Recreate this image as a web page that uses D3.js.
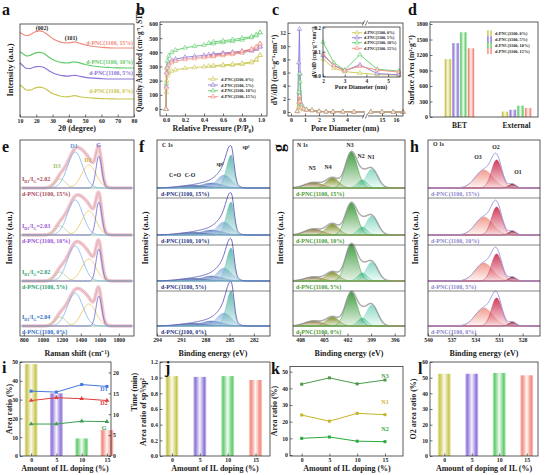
<!DOCTYPE html>
<html>
<head>
<meta charset="utf-8">
<script src="https://cdn.jsdelivr.net/npm/d3@7"></script>
<style>
  body { margin: 0; background: #fff; }
  text { font-family: "Liberation Serif", "Times New Roman", serif; font-weight: bold; }
</style>
</head>
<body>
<script>
// d-PNC(1100, x%) figure: XRD, isotherms, PSD, BET, Raman, XPS, ratio plots

// ---------- data ----------
const samples = ["d-PNC(1100, 0%)", "d-PNC(1100, 5%)", "d-PNC(1100, 10%)", "d-PNC(1100, 15%)"];
const sampleColors = ["#c9c64e", "#8d74d8", "#5fcc6a", "#f28a7c"];
const ilDoping = [0, 5, 10, 15];

// a: XRD (a.u., already offset)
const xrdAngle = [10, 12, 14, 16, 18, 20, 22, 24, 26, 28, 30, 33, 36, 39, 42, 44, 46, 50, 55, 60, 65, 70, 75, 80];
const xrd15 = [84.5, 82.5, 81.5, 82, 84, 85.5, 86.2, 85.5, 83.5, 81, 78.5, 76, 74.5, 74, 74.7, 75, 74, 72, 70.5, 69.7, 69.2, 69, 69, 69];
const xrd10 = [65.3, 63, 61, 61.5, 63, 64.3, 64.6, 64, 62, 59.5, 57.5, 55.5, 54.3, 54, 54.8, 55, 54.3, 52.5, 51, 50, 49.5, 49.2, 49, 49];
const xrd5 = [54, 51, 48.5, 48.5, 49.5, 50.3, 50.5, 50, 48.3, 46, 44.3, 42.5, 41.3, 40.8, 41.5, 41.7, 41, 39.7, 38.8, 38.3, 38, 38, 38, 38];
const xrd0 = [32, 29.5, 27, 26.8, 28, 29.3, 29.8, 29.3, 27.8, 25.5, 23.5, 21.8, 20.5, 20.2, 21, 21.3, 20.5, 19.5, 18.8, 18.4, 18.2, 18, 18, 18];

// b: N2 isotherms
const isoP = [0, 0.003, 0.008, 0.015, 0.03, 0.06, 0.1, 0.2, 0.3, 0.4, 0.5, 0.6, 0.7, 0.8, 0.9, 0.95, 0.99];
const isoAds0 = [0, 120, 200, 235, 255, 268, 276, 287, 293, 298, 302, 306, 310, 316, 327, 345, 380];
const isoAds5 = [0, 160, 260, 300, 325, 342, 352, 365, 372, 378, 383, 389, 394, 400, 410, 422, 440];
const isoAds10 = [0, 180, 290, 340, 375, 400, 415, 432, 443, 452, 462, 470, 478, 488, 505, 518, 540];
const isoAds15 = [0, 150, 250, 290, 312, 328, 338, 350, 357, 364, 371, 378, 386, 396, 415, 432, 460];
const isoPdes = [0.99, 0.95, 0.9, 0.8, 0.7, 0.6, 0.5, 0.45];
const isoDes0 = [380, 350, 333, 322, 316, 311, 306, 302];
const isoDes5 = [440, 428, 418, 408, 401, 395, 388, 383];
const isoDes10 = [540, 525, 512, 500, 490, 482, 474, 465];
const isoDes15 = [460, 440, 424, 408, 396, 386, 376, 370];

// c: pore size distribution
const poreD = [0.45, 0.55, 0.6, 0.65, 0.75, 0.9, 1.1, 1.5, 2, 2.5, 3, 3.7, 4.5, 5.5];
const psd0 = [0.1, 0.8, 1.3, 1.0, 0.5, 0.35, 0.3, 0.2, 0.07, 0.032, 0.018, 0.012, 0.006, 0.003];
const psd5 = [0.1, 7.5, 12.6, 5.8, 1.2, 0.5, 0.35, 0.25, 0.085, 0.045, 0.022, 0.046, 0.01, 0.005];
const psd10 = [0.1, 3.0, 5.8, 4.6, 1.0, 0.55, 0.4, 0.3, 0.14, 0.055, 0.025, 0.088, 0.028, 0.02];
const psd15 = [0.1, 1.5, 2.4, 1.6, 0.7, 0.45, 0.35, 0.25, 0.092, 0.042, 0.022, 0.04, 0.025, 0.016];
const poreDfar = [14.2, 15, 15.8, 16.5];
const psdFar = [0.005, 0.004, 0.004, 0.003];

// d: surface area (m2/g)
const areaCats = ["BET", "External"];
const areaBET = [1120, 1430, 1640, 1330];
const areaExt = [105, 140, 220, 175];

// e: Raman fit components D3, D1, D2, G (per sample 0,5,10,15 %)
const ramanCenters = [1185, 1340, 1485, 1590];
const ramanWidths = [55, 80, 75, 30];
const ramanD3 = [9, 9, 9, 9];
const ramanD1 = [33, 35, 35, 36];
const ramanD2 = [22, 22, 24, 23];
const ramanG = [30, 32, 33, 32];
const ramanRatio = ["2.04", "2.02", "2.03", "2.02"];

// f: C 1s components sp2, sp3, C-O, C=O
const c1sCenters = [284.8, 285.7, 287.2, 289.5];
const c1sSp2 = [35, 33, 33, 33];
const c1sSp3 = [13, 13, 13, 13];
const c1sCO = [5, 5, 5, 5];
const c1sCdO = [2.5, 2.5, 2.5, 2.5];

// g: N 1s components N1..N5
const n1sCenters = [398.9, 400.1, 401.5, 403.9, 406.3];
const n1sN1 = [21, 19, 19, 19];
const n1sN2 = [8, 8, 8, 8];
const n1sN3 = [34, 37, 32, 36];
const n1sN4 = [9, 9, 11, 10];
const n1sN5 = [5, 4, 6, 5.5];

// h: O 1s components O1..O3
const o1sCenters = [529.3, 531.3, 532.9];
const o1sO1 = [4, 4, 4, 4];
const o1sO2 = [28, 27, 28, 28];
const o1sO3 = [18, 18, 18, 18];

// i: Raman area ratios (%) and time (min)
const ratioD1 = [34.5, 34, 38, 37];
const ratioD2 = [29.5, 31, 30.5, 29.5];
const ratioG = [17, 17, 18.5, 18.3];
const timeMin = [22, 15, 4.2, 6.2];

// j: sp3/sp2
const sp3sp2 = [1.02, 1.01, 1.02, 0.97];

// k: N species area ratio (%)
const ratioN3 = [42.5, 46.3, 42.7, 45];
const ratioN1 = [24, 20.3, 25, 24.2];
const ratioN2 = [10, 10.8, 8.3, 8];

// l: O2 area ratio (%)
const ratioO2 = [52.5, 52.5, 53, 51.5];

// ---------- helpers ----------
const svg = d3.select("body").append("svg").attr("width", 546).attr("height", 475);
const defs = svg.append("defs");
const ink = "#222";

function label(x, y, s, size, fill = ink, anchor = "start") {
  return svg.append("text").attr("x", x).attr("y", y).attr("font-size", size)
    .attr("fill", fill).attr("text-anchor", anchor).text(s);
}
function vlabel(x, y, s, size) {
  return svg.append("text").attr("transform", `translate(${x},${y}) rotate(-90)`)
    .attr("font-size", size).attr("fill", ink).attr("text-anchor", "middle").text(s);
}
function letter(x, y, s) { return label(x, y, s, 16, "#111"); }
function box(x0, y0, x1, y1) {
  svg.append("rect").attr("x", x0).attr("y", y0).attr("width", x1 - x0).attr("height", y1 - y0)
    .attr("fill", "none").attr("stroke", "#333").attr("stroke-width", 0.8);
}
function tidy(g, size) {
  g.select(".domain").remove();
  g.selectAll(".tick line").attr("stroke", "#333").attr("stroke-width", 0.7);
  g.selectAll(".tick text").attr("font-size", size).attr("fill", ink);
  return g;
}
function bottomAxis(scale, y, ticks, fmt = d3.format("d"), size = 5.8) {
  return tidy(svg.append("g").attr("transform", `translate(0,${y})`)
    .call(d3.axisBottom(scale).tickValues(ticks).tickFormat(fmt).tickSizeInner(-2.5).tickSizeOuter(0).tickPadding(2)), size);
}
function leftAxis(scale, x, ticks, fmt = d3.format("d"), size = 5.8) {
  return tidy(svg.append("g").attr("transform", `translate(${x},0)`)
    .call(d3.axisLeft(scale).tickValues(ticks).tickFormat(fmt).tickSizeInner(-2.5).tickSizeOuter(0).tickPadding(2)), size);
}
function rightAxis(scale, x, ticks, fmt = d3.format("d"), size = 5.8) {
  return tidy(svg.append("g").attr("transform", `translate(${x},0)`)
    .call(d3.axisRight(scale).tickValues(ticks).tickFormat(fmt).tickSizeInner(-2.5).tickSizeOuter(0).tickPadding(2)), size);
}
let gradN = 0;
function vGrad(color, top = 0.95, bot = 0.1) {
  const id = "vg" + (gradN++);
  const g = defs.append("linearGradient").attr("id", id).attr("x1", 0).attr("y1", 0).attr("x2", 0).attr("y2", 1);
  g.append("stop").attr("offset", 0).attr("stop-color", color).attr("stop-opacity", top);
  g.append("stop").attr("offset", 1).attr("stop-color", color).attr("stop-opacity", bot);
  return `url(#${id})`;
}
function hGrad(color) {
  const id = "hg" + (gradN++);
  const g = defs.append("linearGradient").attr("id", id).attr("x1", 0).attr("y1", 0).attr("x2", 1).attr("y2", 0);
  [[0, 0.4], [0.15, 1], [0.5, 0.08], [0.85, 1], [1, 0.4]].forEach(([o, a]) =>
    g.append("stop").attr("offset", o).attr("stop-color", color).attr("stop-opacity", a));
  return `url(#${id})`;
}
// fitted component shape (center, height, width toward low x, width toward high x)
function peak(c, h, sLo, sHi = sLo) {
  return v => h * Math.exp(-0.5 * ((v - c) / (v < c ? sLo : sHi)) ** 2);
}
function marks(pts, x, y, color, size = 9, type = d3.symbolTriangle) {
  svg.append("g").selectAll("path").data(pts).join("path")
    .attr("transform", d => `translate(${x(d[0])},${y(d[1])})`)
    .attr("d", d3.symbol().type(type).size(size))
    .attr("fill", "#fff").attr("fill-opacity", 0.6).attr("stroke", color).attr("stroke-width", 0.6);
}

// ---------- a ----------
{
  const x = d3.scaleLinear().domain([10, 80]).range([20, 134]);
  const y = d3.scaleLinear().domain([0, 93]).range([117, 24]);
  const line = d3.line().x((d, i) => x(xrdAngle[i])).y(d => y(d)).curve(d3.curveMonotoneX);
  [xrd0, xrd5, xrd10, xrd15].forEach((s, k) =>
    svg.append("path").attr("d", line(s)).attr("fill", "none").attr("stroke", sampleColors[k]).attr("stroke-width", 1.2));
  box(20, 24, 134, 117);
  bottomAxis(x, 117, d3.range(10, 81, 10));
  [93, 74.5, 64, 45].forEach((yy, k) => label(133, yy, samples[k], 5.8, sampleColors[k], "end"));
  label(42, 30, "(002)", 5.8, ink, "middle");
  label(71, 40, "(101)", 5.8, ink, "middle");
  vlabel(13, 70, "Intensity (a.u.)", 8.5);
  label(77, 131, "2θ (degree)", 8, ink, "middle");
  letter(2, 15, "a");
}

// ---------- b ----------
{
  const x = d3.scaleLinear().domain([0, 1]).range([166, 261]);
  const y = d3.scaleLinear().domain([0, 600]).range([109, 24]);
  const line = d3.line().x(d => x(d[0])).y(d => y(d[1]));
  const ads = [isoAds0, isoAds5, isoAds10, isoAds15];
  const des = [isoDes0, isoDes5, isoDes10, isoDes15];
  ads.forEach((a, k) => {
    const pa = isoP.map((p, i) => [p, a[i]]);
    const pd = isoPdes.map((p, i) => [p, des[k][i]]);
    [pa, pd].forEach(pts => svg.append("path").attr("d", line(pts)).attr("fill", "none")
      .attr("stroke", sampleColors[k]).attr("stroke-width", 0.9));
    marks(pa.concat(pd), x, y, sampleColors[k], 9);
  });
  box(160, 22, 267, 116);
  leftAxis(y, 160, d3.range(0, 601, 100));
  bottomAxis(x, 116, d3.range(0, 1.01, 0.2), d3.format(".1f"));
  [79, 85, 90.7, 96.7].forEach((yy, k) => {
    svg.append("line").attr("x1", 208).attr("x2", 218).attr("y1", yy).attr("y2", yy)
      .attr("stroke", sampleColors[k]).attr("stroke-width", 0.9);
    marks([[0, 0]], () => 213, () => yy, sampleColors[k], 9);
    label(221, yy + 1.5, samples[k], 4.3);
  });
  vlabel(142, 60, "Quantity Adsorbed (cm³·g⁻¹, STP)", 7.2);
  label(213, 131, "Relative Pressure (P/P₀)", 8, ink, "middle");
  letter(136, 15, "b");
}

// ---------- c ----------
{
  const xl = d3.scaleLinear().domain([0, 4]).range([291, 347]);
  const xr = d3.scaleLinear().domain([15, 16]).range([382, 396]);
  const y = d3.scaleLinear().domain([0, 12]).range([112, 33]);
  const clipL = defs.append("clipPath").attr("id", "cL");
  clipL.append("rect").attr("x", 288).attr("y", 20).attr("width", 77).attr("height", 100);
  const series = [psd0, psd5, psd10, psd15];
  const line = sx => d3.line().x(d => sx(d[0])).y(d => y(d[1]));
  series.forEach((s, k) => {
    const pts = poreD.map((d, i) => [d, s[i]]);
    const g = svg.append("g").attr("clip-path", "url(#cL)");
    g.append("path").attr("d", line(xl)(pts)).attr("fill", "none").attr("stroke", sampleColors[k]).attr("stroke-width", 0.9);
    const far = poreDfar.map((d, i) => [d, psdFar[i]]);
    svg.append("path").attr("d", line(xr)(far)).attr("fill", "none").attr("stroke", sampleColors[k]).attr("stroke-width", 0.9);
  });
  series.forEach((s, k) => {
    marks(poreD.filter(d => d < 5).map((d, i) => [d, s[i]]), xl, y, sampleColors[k], 8);
    marks(poreDfar.map((d, i) => [d, psdFar[i]]), xr, y, sampleColors[k], 8);
  });
  box(288, 23, 403, 116);
  leftAxis(y, 288, d3.range(0, 13, 2));
  bottomAxis(xl, 116, [0, 1, 2, 3, 4]);
  bottomAxis(xr, 116, [15, 16]);
  // axis break
  [23, 116].forEach(yy => {
    svg.append("rect").attr("x", 364).attr("y", yy - 1.5).attr("width", 4).attr("height", 3).attr("fill", "#fff");
    [363.5, 366.5].forEach(xx => svg.append("line").attr("x1", xx - 1.2).attr("x2", xx + 1.2)
      .attr("y1", yy + 2.5).attr("y2", yy - 2.5).attr("stroke", "#333").attr("stroke-width", 0.7));
  });
  // inset
  const ix = d3.scaleLinear().domain([2, 5.55]).range([323, 400]);
  const iy = d3.scaleLinear().domain([0, 0.2]).range([76, 27.5]);
  svg.append("rect").attr("x", 323).attr("y", 27).attr("width", 77).attr("height", 50).attr("fill", "#fff");
  series.forEach((s, k) => {
    const pts = poreD.map((d, i) => [d, s[i]]).filter(d => d[0] >= 2);
    svg.append("path").attr("d", d3.line().x(d => ix(d[0])).y(d => iy(d[1]))(pts))
      .attr("fill", "none").attr("stroke", sampleColors[k]).attr("stroke-width", 0.9);
    marks(pts, ix, iy, sampleColors[k], 8);
  });
  box(323, 27, 400, 77);
  leftAxis(iy, 323, [0, 0.1, 0.2], d3.format(".1f"), 5.3);
  bottomAxis(ix, 77, [2, 3, 4, 5], d3.format("d"), 5.3);
  [32.7, 37.7, 42.7, 48.3].forEach((yy, k) => {
    svg.append("line").attr("x1", 352).attr("x2", 362).attr("y1", yy).attr("y2", yy)
      .attr("stroke", sampleColors[k]).attr("stroke-width", 0.9);
    marks([[0, 0]], () => 357, () => yy, sampleColors[k], 8);
    label(364, yy + 1.4, samples[k], 4);
  });
  vlabel(316, 52, "dV/dD (cm³·g⁻¹·nm⁻¹)", 5.6);
  label(361, 89, "Pore Diameter (nm)", 6.2, ink, "middle");
  vlabel(277, 70, "dV/dD (cm³·g⁻¹·nm⁻¹)", 7.6);
  label(345, 131, "Pore Diameter (nm)", 8, ink, "middle");
  letter(272, 15, "c");
}

// ---------- d ----------
{
  const x0 = d3.scaleBand().domain(areaCats).range([438, 538]).paddingInner(0.45).paddingOuter(0.1);
  const x1 = d3.scaleBand().domain(d3.range(4)).range([0, x0.bandwidth()]).padding(0.08);
  const y = d3.scaleLinear().domain([0, 1800]).range([117, 24]);
  const fills = sampleColors.map(c => hGrad(c));
  [areaBET, areaExt].forEach((vals, c) => {
    svg.append("g").selectAll("rect").data(vals).join("rect")
      .attr("x", (d, k) => x0(areaCats[c]) + x1(k)).attr("width", x1.bandwidth())
      .attr("y", d => y(d)).attr("height", d => y(0) - y(d)).attr("fill", (d, k) => fills[k]);
  });
  box(430, 22, 538, 117);
  leftAxis(y, 430, d3.range(0, 1801, 300));
  areaCats.forEach(c => label(x0(c) + x0.bandwidth() / 2, 128, c, 7.5, ink, "middle"));
  [33.3, 39.3, 45, 51].forEach((yy, k) => {
    svg.append("rect").attr("x", 487).attr("y", yy - 3).attr("width", 5).attr("height", 6).attr("fill", fills[k]);
    label(495, yy + 1.5, samples[k], 4.3);
  });
  vlabel(414, 70, "Surface Area (m²·g⁻¹)", 7.6);
  letter(408, 15, "d");
}

// ---------- second row: stacked spectra ----------
const r2Top = 140, r2Bot = 336;
const subBottom = [198, 245, 291, 336];   // top to bottom: 15, 10, 5, 0 %
const order = [3, 2, 1, 0];

function stackFrame(x0, x1, seps) {
  box(x0, r2Top, x1, r2Bot);
  if (seps) subBottom.slice(0, 3).forEach(b => svg.append("line").attr("x1", x0).attr("x2", x1)
    .attr("y1", b).attr("y2", b).attr("stroke", "#333").attr("stroke-width", 0.6));
}
function area(x, y, grid, f) {
  return d3.area().x(v => x(v)).y0(y(0)).y1(v => y(f(v)))(grid);
}
function curve(x, y, grid, f) {
  return d3.line().x(v => x(v)).y(v => y(f(v)))(grid);
}

// ---------- e Raman ----------
{
  const x = d3.scaleLinear().domain([760, 1960]).range([20, 134]);
  const grid = d3.range(780, 1941, 5);
  const comps = [ramanD3, ramanD1, ramanD2, ramanG];
  const cols = ["#b8cf8c", "#86b8ea", "#efc46a", "#7c74d6"];
  const labCols = ["#2f6fc8", "#2a9e6e", "#9a52d8", "#a84a5a"];
  order.forEach((k, i) => {
    const base = subBottom[i] - 10;
    const y = d3.scaleLinear().domain([0, 50]).range([base, base - 50]);
    const fs = comps.map((h, j) => peak(ramanCenters[j], h[k], ramanWidths[j]));
    const sum = v => fs.reduce((a, f) => a + f(v), 0);
    svg.append("path").attr("d", curve(x, y, grid, sum)).attr("fill", "none")
      .attr("stroke", "#eab4bc").attr("stroke-width", 3.6).attr("stroke-opacity", 0.7);
    svg.append("path").attr("d", curve(x, y, grid, sum)).attr("fill", "none")
      .attr("stroke", "#d98e9a").attr("stroke-width", 0.5);
    svg.append("line").attr("x1", 20).attr("x2", 134).attr("y1", base).attr("y2", base)
      .attr("stroke", "#8fc0ea").attr("stroke-width", 0.8);
    fs.forEach((f, j) => svg.append("path").attr("d", curve(x, y, grid, f)).attr("fill", "none")
      .attr("stroke", cols[j]).attr("stroke-width", 0.9));
    label(22, subBottom[i] - 2.5, samples[k], 6, labCols[k]);
    const t = label(22, base - 7, "", 6, labCols[k]);
    t.append("tspan").text("I");
    t.append("tspan").attr("dy", 1.5).attr("font-size", 4).text("D1");
    t.append("tspan").attr("dy", -1.5).text("/I");
    t.append("tspan").attr("dy", 1.5).attr("font-size", 4).text("G");
    t.append("tspan").attr("dy", -1.5).text("=" + ramanRatio[k]);
  });
  stackFrame(20, 134, false);
  bottomAxis(x, r2Bot, d3.range(800, 1801, 200));
  [["D3", 57, 168, "#9fbc70"], ["D1", 74, 148, "#5a9ae0"], ["D2", 88, 162, "#d8a840"], ["G", 98.5, 147, "#6a60c8"]]
    .forEach(([s, xx, yy, c]) => label(xx, yy, s, 6, c, "middle"));
  vlabel(12, 238, "Intensity (a.u.)", 8.5);
  label(77, 356, "Raman shift (cm⁻¹)", 8, ink, "middle");
  letter(2, 152, "e");
}

// ---------- f C 1s ----------
{
  const x = d3.scaleLinear().domain([294, 280]).range([157, 270]);
  const grid = d3.range(280, 294.01, 0.05);
  const cols = ["#5fb8b0", "#94b8e0", "#5a7cc0", "#34509a"];
  const fills = cols.map(c => vGrad(c, 0.95, 0.15));
  order.forEach((k, i) => {
    const base = subBottom[i] - 10;
    const y = d3.scaleLinear().domain([0, 50]).range([base, base - 50]);
    const fs = [peak(c1sCenters[0], c1sSp2[k], 0.33, 0.6), peak(c1sCenters[1], c1sSp3[k], 0.9),
      peak(c1sCenters[2], c1sCO[k], 1.3), peak(c1sCenters[3], c1sCdO[k], 1.8)];
    [3, 2, 1, 0].forEach(j => svg.append("path").attr("d", area(x, y, grid, fs[j]))
      .attr("fill", fills[j]).attr("stroke", cols[j]).attr("stroke-width", 0.4));
    const sum = v => fs.reduce((a, f) => a + f(v), 0);
    svg.append("path").attr("d", curve(x, y, grid, sum)).attr("fill", "none")
      .attr("stroke", "#5a58b8").attr("stroke-width", 0.9);
    label(161, subBottom[i] - 2.5, samples[k], 6, "#2a3580");
  });
  stackFrame(157, 270, true);
  bottomAxis(x, r2Bot, [294, 291, 288, 285, 282]);
  label(162, 147, "C 1s", 5.8, ink);
  label(175, 177, "C=O", 5.8, ink, "middle");
  label(190, 177, "C-O", 5.8, ink, "middle");
  label(220, 166, "sp³", 5.8, ink, "middle");
  label(246, 149, "sp²", 5.8, ink, "middle");
  vlabel(148, 238, "Intensity (a.u.)", 8.5);
  label(213, 356, "Binding energy (eV)", 8, ink, "middle");
  letter(139, 152, "f");
}

// ---------- g N 1s ----------
{
  const x = d3.scaleLinear().domain([408.9, 394.7]).range([293, 405]);
  const grid = d3.range(394.7, 408.91, 0.05);
  const cols = ["#86d9c2", "#5fcaa8", "#3c9a3c", "#7d8c24", "#8a7436"];
  const fills = cols.map(c => vGrad(c, 0.95, 0.12));
  const hs = [n1sN1, n1sN2, n1sN3, n1sN4, n1sN5];
  const ws = [0.75, 0.6, 0.75, 0.8, 1.1];
  order.forEach((k, i) => {
    const base = subBottom[i] - 10;
    const y = d3.scaleLinear().domain([0, 50]).range([base, base - 50]);
    const fs = hs.map((h, j) => peak(n1sCenters[j], h[k], ws[j]));
    [4, 3, 0, 1, 2].forEach(j => svg.append("path").attr("d", area(x, y, grid, fs[j]))
      .attr("fill", fills[j]).attr("stroke", cols[j]).attr("stroke-width", 0.5));
    const sum = v => fs.reduce((a, f) => a + f(v), 0);
    svg.append("path").attr("d", curve(x, y, grid, sum)).attr("fill", "none")
      .attr("stroke", "#aaa").attr("stroke-width", 1.8).attr("stroke-opacity", 0.5);
    svg.append("path").attr("d", curve(x, y, grid, sum)).attr("fill", "none")
      .attr("stroke", "#777").attr("stroke-width", 0.6);
    svg.append("line").attr("x1", 293).attr("x2", 405).attr("y1", base).attr("y2", base)
      .attr("stroke", "#a89a40").attr("stroke-width", 0.7);
    label(296, subBottom[i] - 2.5, samples[k], 6, "#4a9a30");
  });
  stackFrame(293, 405, true);
  bottomAxis(x, r2Bot, [408, 405, 402, 399, 396]);
  label(297, 147, "N 1s", 5.8, ink);
  [["N5", 312, 170], ["N4", 328, 169], ["N3", 350, 147], ["N2", 361, 158], ["N1", 371, 159]]
    .forEach(([s, xx, yy]) => label(xx, yy, s, 5.8, ink, "middle"));
  vlabel(283, 238, "Intensity (a.u.)", 8.5);
  label(349, 356, "Binding energy (eV)", 8, ink, "middle");
  svg.append("text").attr("transform", "translate(284,152) rotate(-90)").attr("font-size", 16).attr("fill", "#111").text("g");
}

// ---------- h O 1s ----------
{
  const x = d3.scaleLinear().domain([540, 525.8]).range([428, 540]);
  const grid = d3.range(525.8, 540.01, 0.05);
  const cols = ["#8e1428", "#cf3352", "#f0998a"];
  const fills = cols.map(c => vGrad(c, 0.95, 0.1));
  const hs = [o1sO1, o1sO2, o1sO3];
  const ws = [0.45, 0.65, 1.1];
  order.forEach((k, i) => {
    const base = subBottom[i] - 10;
    const y = d3.scaleLinear().domain([0, 50]).range([base, base - 50]);
    const fs = hs.map((h, j) => peak(o1sCenters[j], h[k], ws[j]));
    [2, 1, 0].forEach(j => svg.append("path").attr("d", area(x, y, grid, fs[j]))
      .attr("fill", fills[j]).attr("stroke", cols[j]).attr("stroke-width", 0.5));
    const sum = v => fs.reduce((a, f) => a + f(v), 0);
    svg.append("path").attr("d", curve(x, y, grid, sum)).attr("fill", "none")
      .attr("stroke", "#8f8ddb").attr("stroke-width", 0.9);
    svg.append("line").attr("x1", 428).attr("x2", 540).attr("y1", base).attr("y2", base)
      .attr("stroke", "#b0b0e0").attr("stroke-width", 0.7);
    label(431, subBottom[i] - 2.5, samples[k], 6, "#8c86cc");
  });
  stackFrame(428, 540, true);
  bottomAxis(x, r2Bot, [540, 537, 534, 531, 528]);
  label(433, 146, "O 1s", 5.8, ink);
  [["O3", 478, 159], ["O2", 496, 149], ["O1", 518, 174]]
    .forEach(([s, xx, yy]) => label(xx, yy, s, 5.8, ink, "middle"));
  vlabel(418, 238, "Intensity (a.u.)", 8.5);
  label(484, 356, "Binding energy (eV)", 8, ink, "middle");
  letter(410, 152, "h");
}

// ---------- third row ----------
const r3Bot = 456;
function lineSeries(x, y, vals, color, type) {
  const pts = ilDoping.map((d, i) => [d, vals[i]]);
  svg.append("path").attr("d", d3.line().x(d => x(d[0])).y(d => y(d[1]))(pts))
    .attr("fill", "none").attr("stroke", color).attr("stroke-width", 1);
  svg.append("g").selectAll("path").data(pts).join("path")
    .attr("transform", d => `translate(${x(d[0])},${y(d[1])})`)
    .attr("d", d3.symbol().type(type).size(9)).attr("fill", color);
}
function gradBars(x, y, vals, w) {
  const fills = sampleColors.map(c => hGrad(c));
  svg.append("g").selectAll("rect").data(vals).join("rect")
    .attr("x", (d, i) => x(ilDoping[i]) - w / 2).attr("width", w)
    .attr("y", d => y(d)).attr("height", d => y.range()[0] - y(d))
    .attr("fill", (d, i) => fills[i]);
}

// i
{
  const x = d3.scaleLinear().domain([-2.2, 15.8]).range([20, 111]);
  const yL = d3.scaleLinear().domain([0, 50]).range([r3Bot, 362]);
  const yR = d3.scaleLinear().domain([0, 22.5]).range([r3Bot, 362]);
  gradBars(x, yR, timeMin, 13);
  lineSeries(x, yL, ratioD1, "#4477dd", d3.symbolSquare);
  lineSeries(x, yL, ratioD2, "#e03c3c", d3.symbolTriangle);
  lineSeries(x, yL, ratioG, "#3c9c50", d3.symbolTriangle);
  box(20, 362, 111, r3Bot);
  leftAxis(yL, 20, d3.range(0, 51, 10));
  rightAxis(yR, 111, d3.range(0, 21, 5));
  bottomAxis(x, r3Bot, ilDoping);
  label(104, 391, "D1", 6, "#4477dd", "middle");
  label(104, 405, "D2", 6, "#e03c3c", "middle");
  label(104, 430, "G", 6, "#3c9c50", "middle");
  vlabel(12, 409, "Area ratio (%)", 8);
  vlabel(137, 392, "Time (min)", 8);
  label(65, 471, "Amount of IL doping (%)", 8, ink, "middle");
  letter(2, 373, "i");
}

// j
{
  const x = d3.scaleLinear().domain([-2.15, 17.6]).range([160, 270]);
  const y = d3.scaleLinear().domain([0, 1.2]).range([r3Bot, 362]);
  gradBars(x, y, sp3sp2, 13);
  box(160, 362, 270, r3Bot);
  leftAxis(y, 160, d3.range(0, 1.21, 0.2), d3.format(".1f"));
  bottomAxis(x, r3Bot, ilDoping);
  vlabel(146, 412, "Area ratio of sp³/sp²", 8);
  label(215, 471, "Amount of IL doping (%)", 8, ink, "middle");
  letter(165, 373, "j");
}

// k
{
  const x = d3.scaleLinear().domain([-2.1, 18.25]).range([290, 403]);
  const y = d3.scaleLinear().domain([0, 50]).range([455, 371.7]);
  lineSeries(x, y, ratioN3, "#4c9a4c", d3.symbolSquare);
  lineSeries(x, y, ratioN1, "#c8b428", d3.symbolSquare);
  lineSeries(x, y, ratioN2, "#2aaa3a", d3.symbolSquare);
  box(290, 366.5, 403, r3Bot);
  leftAxis(y, 290, d3.range(0, 51, 10));
  bottomAxis(x, r3Bot, ilDoping);
  label(385, 378, "N3", 6, "#4c9a4c", "middle");
  label(385, 404, "N1", 6, "#c8b428", "middle");
  label(385, 431, "N2", 6, "#2aaa3a", "middle");
  vlabel(277, 411, "Area ratio (%)", 8);
  label(347, 471, "Amount of  IL doping (%)", 8, ink, "middle");
  letter(271, 374, "k");
}

// l
{
  const x = d3.scaleLinear().domain([-2.6, 17.05]).range([430, 538]);
  const y = d3.scaleLinear().domain([0, 60]).range([r3Bot, 362]);
  gradBars(x, y, ratioO2, 13);
  box(430, 362, 538, r3Bot);
  leftAxis(y, 430, d3.range(0, 61, 10));
  bottomAxis(x, r3Bot, ilDoping);
  vlabel(416, 409, "O2 area ratio (%)", 8);
  label(484, 471, "Amount of doping of IL (%)", 8, ink, "middle");
  letter(418, 374, "l");
}
</script>
</body>
</html>
